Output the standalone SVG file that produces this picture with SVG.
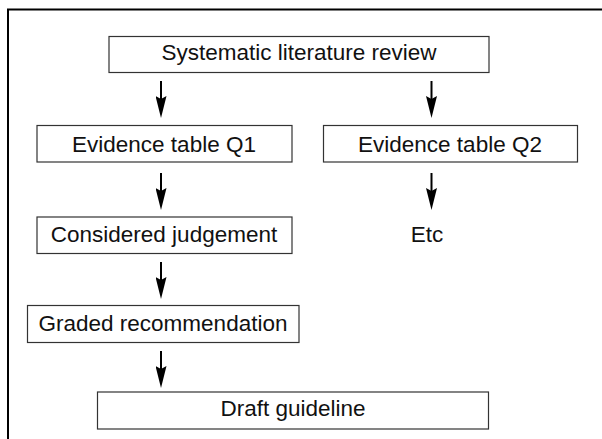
<svg xmlns="http://www.w3.org/2000/svg" width="602" height="439" viewBox="0 0 602 439">
<style>
.box{fill:#fff;stroke:#333;stroke-width:1.2}
.lbl{font-family:"Liberation Sans",Arial,sans-serif;font-size:22.5px;fill:#111;text-anchor:middle}
.arr{stroke:#000;stroke-width:2;fill:none;marker-end:url(#ah)}
.frame{stroke:#000;stroke-width:2;fill:none}
</style>
<defs>
<marker id="ah" viewBox="0 0 22 11" refX="12" refY="5.5" markerWidth="22" markerHeight="11" markerUnits="userSpaceOnUse" orient="auto">
<path d="M0,0 L22,5.5 L0,11 L3,5.5 Z" fill="#000"/>
</marker>
</defs>
<rect width="602" height="439" fill="#fff"/>
<path class="frame" d="M8,439 L8,9.5 L602,9.5"/>
<g id="node-systematic">
<rect class="box" x="109" y="36.5" width="380" height="36"/>
<text class="lbl" x="299" y="60">Systematic literature review</text>
</g>
<g id="node-evidence-q1">
<rect class="box" x="37" y="125.5" width="255" height="36.5"/>
<text class="lbl" x="164" y="151.5">Evidence table Q1</text>
</g>
<g id="node-evidence-q2">
<rect class="box" x="323.5" y="125.5" width="254" height="36.5"/>
<text class="lbl" x="450" y="151.5">Evidence table Q2</text>
</g>
<g id="node-considered">
<rect class="box" x="37" y="217" width="255" height="36.5"/>
<text class="lbl" x="164" y="241.5">Considered judgement</text>
</g>
<g id="node-etc">
<text class="lbl" x="427" y="241.5">Etc</text>
</g>
<g id="node-graded">
<rect class="box" x="27.5" y="305.5" width="271.5" height="37"/>
<text class="lbl" x="163" y="330.5">Graded recommendation</text>
</g>
<g id="node-draft">
<rect class="box" x="97.5" y="392" width="391" height="37"/>
<text class="lbl" x="293" y="415.5">Draft guideline</text>
</g>
<g id="connectors">
<line class="arr" x1="161" y1="81" x2="161" y2="108"/>
<line class="arr" x1="431.5" y1="81" x2="431.5" y2="108"/>
<line class="arr" x1="161" y1="173" x2="161" y2="200"/>
<line class="arr" x1="431.5" y1="173" x2="431.5" y2="200"/>
<line class="arr" x1="161" y1="262" x2="161" y2="289"/>
<line class="arr" x1="161" y1="351" x2="161" y2="378"/>
</g>
</svg>
